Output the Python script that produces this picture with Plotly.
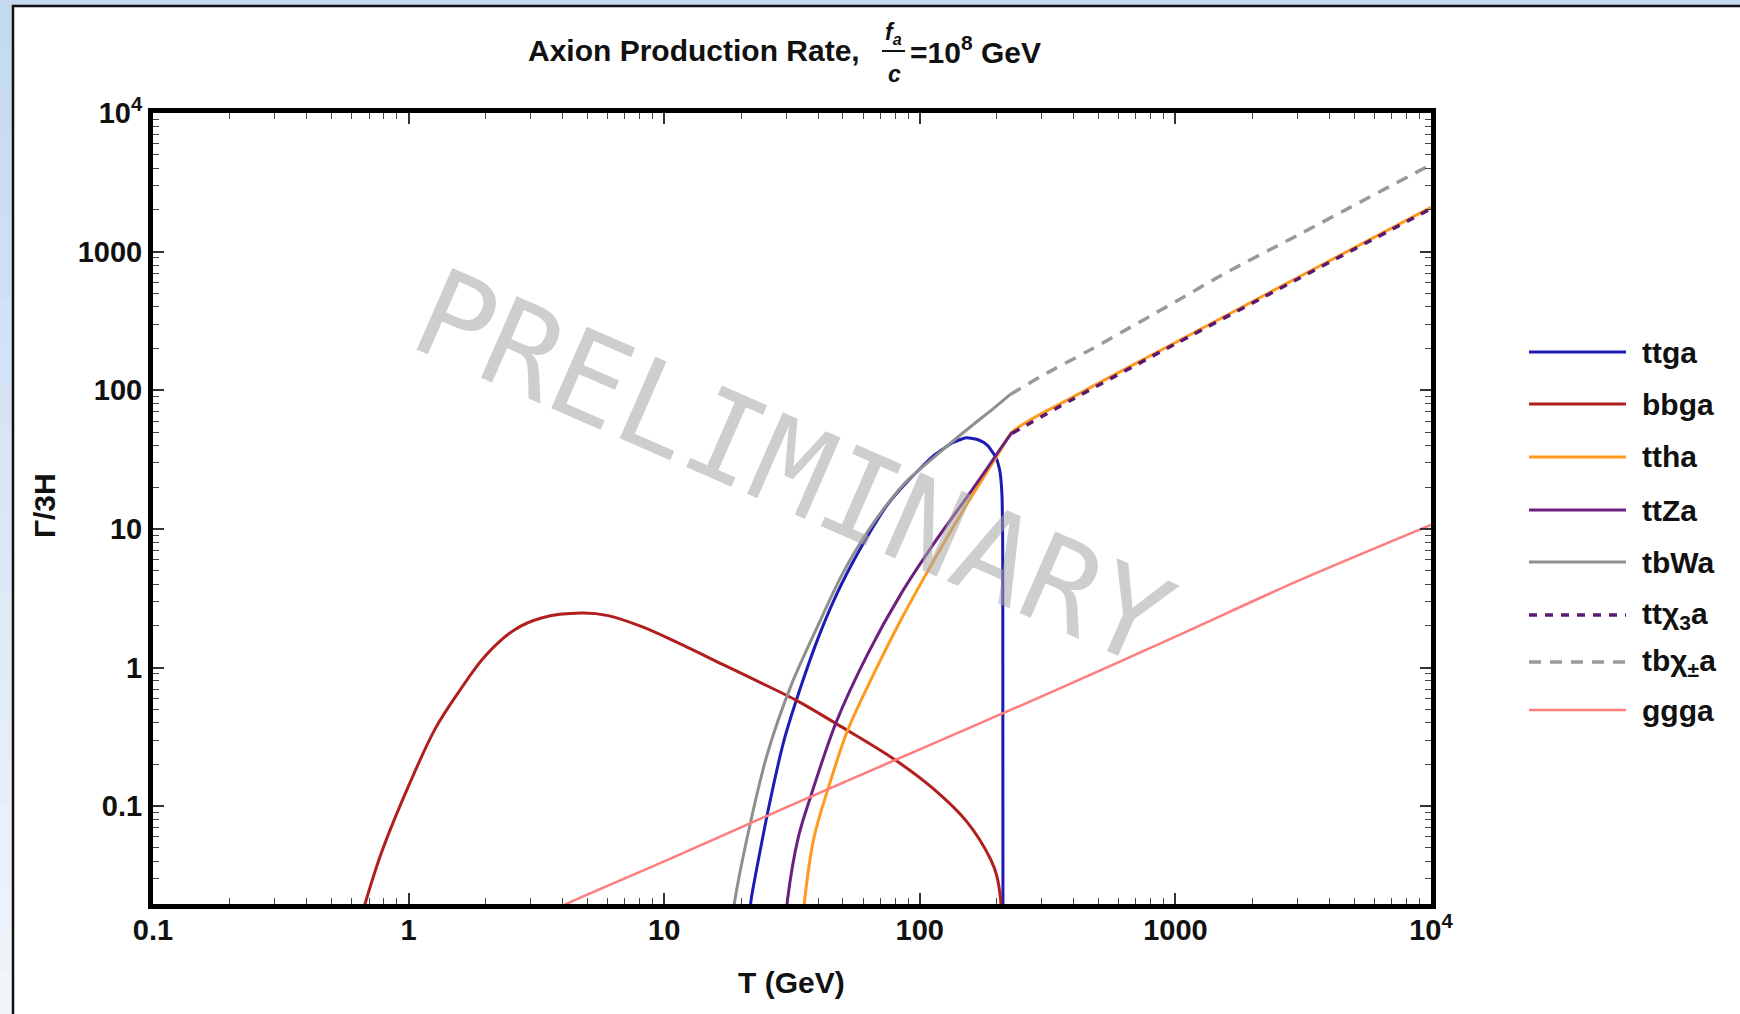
import math
import plotly.graph_objects as go

# ---------------- data ----------------
T_ttga = [21.5, 21.9, 25.4, 29.5, 34.3, 39.8, 46.2, 53.7, 62.5, 74.8, 89.5, 113.8, 135, 152, 170, 183.6, 198, 205, 208, 210, 211, 211.3, 211.5]
G_ttga = [0.015, 0.0214, 0.09, 0.303, 0.735, 1.59, 3.08, 5.4, 8.9, 15.0, 22.0, 34.0, 42.0, 45.5, 43.8, 40.2, 33.1, 27.0, 22.0, 16.0, 8.0, 1.0, 0.015]

T_bbga = [0.66, 0.675, 0.784, 1.0, 1.267, 1.563, 1.99, 2.6, 3.31, 4.74, 6.03, 8.13, 10.97, 17.0, 23.9,
          33.3, 47.6, 79.4, 113.8, 153.5, 189.0, 200.0, 207.0, 211.0]
G_bbga = [0.017, 0.0197, 0.0465, 0.14, 0.358, 0.657, 1.206, 1.876, 2.28, 2.47, 2.37, 1.98, 1.55, 1.05, 0.776,
          0.573, 0.389, 0.218, 0.132, 0.0764, 0.0416, 0.0316, 0.0214, 0.012]

T_ttha = [35.0, 35.3, 38.6, 44.9, 52.1, 66.4, 84.4, 113.8, 153.5, 180, 207, 230, 400, 1000, 3000, 10000]
G_ttha = [0.016, 0.0197, 0.06, 0.155, 0.35, 0.92, 2.21, 5.98, 15.3, 24.5, 37.0, 50.0, 90.0, 221.0, 648.0, 2084.0]

T_ttZa = [30.0, 30.4, 33.5, 37.5, 47.0, 62.5, 84.4, 113.8, 153.5, 180, 207, 230]
G_ttZa = [0.016, 0.0214, 0.06, 0.119, 0.40, 1.25, 3.4, 7.9, 17.1, 26.0, 38.0, 50.0]

T_tbWa = [18.5, 18.8, 21.9, 25.4, 31.3, 39.8, 50.0, 62.5, 75.0, 89.5, 113.8, 144.5, 168, 195, 226]
G_tbWa = [0.015, 0.0197, 0.0805, 0.243, 0.735, 1.98, 4.8, 9.55, 15.3, 22.4, 33.0, 47.8, 59.8, 74.3, 93.3]

T_ttchi3a = [230, 400, 1000, 3000, 10000]
G_ttchi3a = [49.0, 87.0, 216.0, 632.0, 2040.0]

T_tbchipa = [226, 300, 465, 1000, 1545, 3000, 10000]
G_tbchipa = [93.3, 127.0, 196.0, 435.0, 690.0, 1310.0, 4250.0]

T_ggga = [4.0, 4.14, 10, 30, 100, 300, 1000, 3000, 10000]
G_ggga = [0.019, 0.0197, 0.040, 0.098, 0.257, 0.62, 1.67, 4.2, 10.7]

names = ["ttga", "bbga", "ttha", "ttZa", "tbWa", "tt\u03c7<sub>3</sub>a", "tb\u03c7<sub>\u00b1</sub>a", "ggga"]
x_tickvals = [0.1, 1, 10, 100, 1000, 10000]
x_ticktext = ["0.1", "1", "10", "100", "1000", "10<sup>4</sup>"]
y_tickvals = [0.1, 1, 10, 100, 1000, 10000]
y_ticktext = ["0.1", "1", "10", "100", "1000", "10<sup>4</sup>"]
y_min = 0.0197

# ---------------- styles ----------------
styles = [
    dict(color="#1c1cb4", width=3, dash="solid", smooth=0.5),
    dict(color="#b01e1e", width=3, dash="solid", smooth=1.0),
    dict(color="#ff9a1e", width=3, dash="solid", smooth=0.9),
    dict(color="#6b2080", width=3, dash="solid", smooth=0.9),
    dict(color="#8f8f8f", width=3, dash="solid", smooth=0.9),
    dict(color="#5a1870", width=3.5, dash="8px,8px", smooth=0.8),
    dict(color="#9a9a9a", width=3.5, dash="12px,9px", smooth=0.8),
    dict(color="#ff7d7d", width=2.6, dash="solid", smooth=0.8),
]
series = [(T_ttga, G_ttga), (T_bbga, G_bbga), (T_ttha, G_ttha), (T_ttZa, G_ttZa),
          (T_tbWa, G_tbWa), (T_ttchi3a, G_ttchi3a), (T_tbchipa, G_tbchipa), (T_ggga, G_ggga)]

W, H = 1740, 1014
L, R, TOP, BOT = 153, 1431, 113, 904


def px(p):
    return (p - L) / (R - L)


def py(p):
    return (BOT - p) / (BOT - TOP)


fig = go.Figure()
for (xs, ys), nm, st in zip(series, names, styles):
    fig.add_trace(go.Scatter(x=xs, y=ys, mode="lines", name=nm, showlegend=False,
                             line=dict(color=st["color"], width=st["width"], dash=st["dash"],
                                       shape="spline", smoothing=st["smooth"])))

minor_vals = [m * 10 ** e for e in range(-2, 4) for m in range(2, 10)]
tickfont = dict(family="Liberation Sans, Arial", size=29, color="#111", weight="bold")

fig.update_xaxes(type="log", range=[-1, 4], tickmode="array", tickvals=x_tickvals, ticktext=x_ticktext,
                 ticks="inside", ticklen=11, tickwidth=1.5, tickcolor="#333",
                 showline=True, linecolor="black", linewidth=5, mirror="allticks",
                 showgrid=False, zeroline=False, tickfont=tickfont, ticklabelstandoff=-4,
                 minor=dict(tickvals=minor_vals, ticks="inside", ticklen=6, tickwidth=1.2,
                            tickcolor="#444", showgrid=False))
fig.update_yaxes(type="log", range=[math.log10(y_min), 4], tickmode="array", tickvals=y_tickvals,
                 ticktext=y_ticktext,
                 ticks="inside", ticklen=11, tickwidth=1.5, tickcolor="#333",
                 showline=True, linecolor="black", linewidth=5, mirror="allticks",
                 showgrid=False, zeroline=False, tickfont=tickfont, ticklabelstandoff=0,
                 minor=dict(tickvals=minor_vals, ticks="inside", ticklen=6, tickwidth=1.2,
                            tickcolor="#444", showgrid=False))

shapes = []
# left gradient strip
nb = 24
for i in range(nb):
    t = i / (nb - 1)
    r = int(197 + (240 - 197) * t)
    g = int(217 + (245 - 217) * t)
    b = int(241 + (251 - 241) * t)
    shapes.append(dict(type="rect", xref="paper", yref="paper", layer="below",
                       x0=px(-20), x1=px(13), y0=py(6 + (i + 1) * (H - 6) / nb + 1), y1=py(6 + i * (H - 6) / nb),
                       fillcolor=f"rgb({r},{g},{b})", line=dict(width=0)))
# white panel with dark border
shapes.append(dict(type="rect", xref="paper", yref="paper", layer="below",
                   x0=px(13), x1=px(W + 20), y0=py(H + 20), y1=py(6),
                   fillcolor="white", line=dict(color="#111", width=2.5)))

annotations = []
# legend (manual)
rows = [352, 404, 457, 510, 562, 615, 662, 710]
lfont = dict(family="Liberation Sans, Arial", size=30, color="#111", weight="bold")
for nm, st, yy in zip(names, styles, rows):
    shapes.append(dict(type="line", xref="paper", yref="paper", x0=px(1529), x1=px(1626),
                       y0=py(yy), y1=py(yy),
                       line=dict(color=st["color"], width=st["width"], dash=st["dash"])))
    annotations.append(dict(xref="paper", yref="paper", x=px(1640), y=py(yy), text=nm,
                            showarrow=False, xanchor="left", yanchor="middle", font=lfont))

tfont = dict(family="Liberation Sans, Arial", size=30, color="#111", weight="bold")
annotations.append(dict(xref="paper", yref="paper", x=px(862), y=py(50), text="Axion Production Rate,",
                        showarrow=False, xanchor="right", yanchor="middle", font=tfont))
annotations.append(dict(xref="paper", yref="paper", x=px(893), y=py(34), text="<i>f</i><sub><i>a</i></sub>",
                        showarrow=False, xanchor="center", yanchor="middle",
                        font=dict(family="Liberation Sans, Arial", size=23, color="#111", weight="bold")))
annotations.append(dict(xref="paper", yref="paper", x=px(894), y=py(74), text="<i>c</i>",
                        showarrow=False, xanchor="center", yanchor="middle",
                        font=dict(family="Liberation Sans, Arial", size=23, color="#111", weight="bold")))
shapes.append(dict(type="line", xref="paper", yref="paper", x0=px(882), x1=px(905), y0=py(51), y1=py(51),
                   line=dict(color="#111", width=2)))
annotations.append(dict(xref="paper", yref="paper", x=px(908), y=py(50), text="=10<sup>8</sup> GeV",
                        showarrow=False, xanchor="left", yanchor="middle", font=tfont))
# axis titles
annotations.append(dict(xref="paper", yref="paper", x=px(791), y=py(982), text="T (GeV)",
                        showarrow=False, xanchor="center", yanchor="middle", font=tfont))
annotations.append(dict(xref="paper", yref="paper", x=px(44), y=py(506), text="\u0393/3H",
                        showarrow=False, xanchor="center", yanchor="middle", textangle=-90, font=tfont))
# watermark
annotations.append(dict(xref="paper", yref="paper", x=px(793), y=py(468), text="PRELIMINARY",
                        showarrow=False, xanchor="center", yanchor="middle", textangle=23.6,
                        font=dict(family="DejaVu Sans Mono", size=122, color="rgba(165,165,165,0.55)")))

fig.update_layout(width=W, height=H, autosize=False,
                  margin=dict(l=L, r=W - R, t=TOP, b=H - BOT, pad=0),
                  paper_bgcolor="#c6d9f1", plot_bgcolor="white",
                  shapes=shapes, annotations=annotations, showlegend=False)

fig.write_html("out.html")
